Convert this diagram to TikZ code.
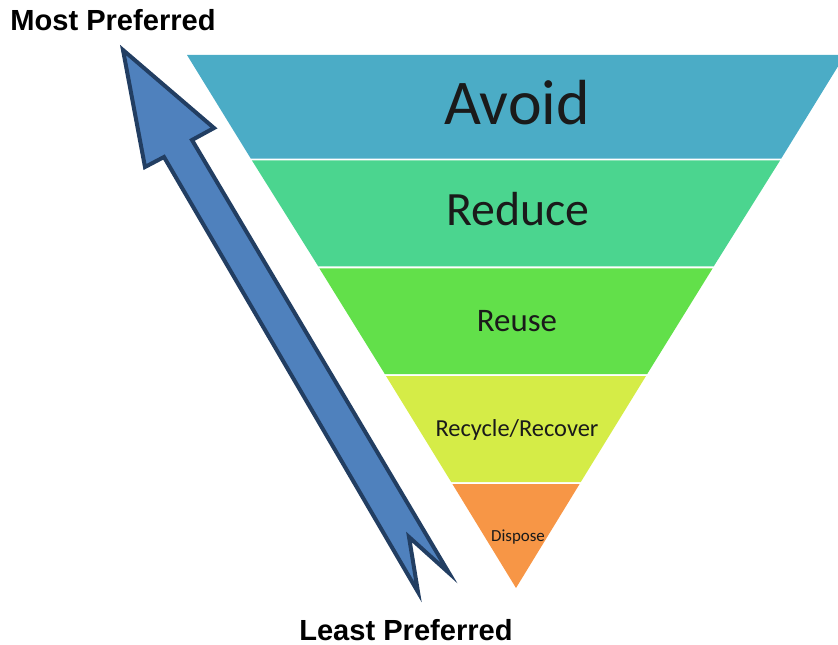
\documentclass[tikz,border=0pt]{standalone}
\usepackage{fontspec}
\setmainfont{Carlito}
\newfontfamily\labelfont{Liberation Sans}
\definecolor{avoidc}{HTML}{4BACC6}
\definecolor{reducec}{HTML}{4BD58F}
\definecolor{reusec}{HTML}{62E04A}
\definecolor{recyclec}{HTML}{D5EC47}
\definecolor{disposec}{HTML}{F79646}
\definecolor{arrowfill}{HTML}{4F81BD}
\definecolor{arrowline}{HTML}{223E62}
\definecolor{textc}{HTML}{1A1A1A}
\begin{document}
\begin{tikzpicture}[x=1bp,y=-1bp,
  layer/.style={draw=none},
  tier/.style={anchor=base,text=textc,inner sep=0pt},
  sidelabel/.style={anchor=base,inner sep=0pt,font=\labelfont\bfseries\fontsize{29.2}{30}\selectfont}]
\useasboundingbox (0,0) rectangle (838,645);
% inverted pyramid: apex (516,588), edges widen by 0.6154 px per px upward
\begin{scope}
\clip (0,0) rectangle (838,645);
\fill[avoidc]    (187,55)    -- (845,55)    -- (781.2,158.6) -- (250.8,158.6) -- cycle;
\fill[reducec]   (251.9,160.4) -- (780.1,160.4) -- (713.7,266.4) -- (318.3,266.4) -- cycle;
\fill[reusec]    (319.4,268.4) -- (712.6,268.4) -- (647.2,374.0) -- (384.8,374.0) -- cycle;
\fill[recyclec]  (386.0,376.0) -- (646.0,376.0) -- (580.8,482.0) -- (451.2,482.0) -- cycle;
\fill[disposec]  (452.4,484.0) -- (579.6,484.0) -- (516,588) -- cycle;
\end{scope}
% tier labels
\node[tier,font=\fontsize{64}{64}\selectfont] (avoid) at (517,125) {Avoid};
\node[tier,font=\fontsize{48}{48}\selectfont] (reduce) at (518,226) {Reduce};
\node[tier,font=\fontsize{33}{33}\selectfont] (reuse) at (517,331) {Reuse};
\node[tier,font=\fontsize{24.5}{25}\selectfont] (recycle) at (517,436) {Recycle/Recover};
\node[tier,font=\fontsize{17}{17}\selectfont] (dispose) at (518,541) {Dispose};
% preference arrow
\filldraw[fill=arrowfill,draw=arrowline,line width=4bp,line join=miter]
  (123,50) -- (214,128) -- (192,140) -- (449,573) -- (409,537) -- (418,592)
  -- (164,157) -- (145,167) -- cycle;
% end labels
\node[sidelabel] (most) at (113,31) {Most Preferred};
\node[sidelabel] (least) at (406,640) {Least Preferred};
\end{tikzpicture}
\end{document}
